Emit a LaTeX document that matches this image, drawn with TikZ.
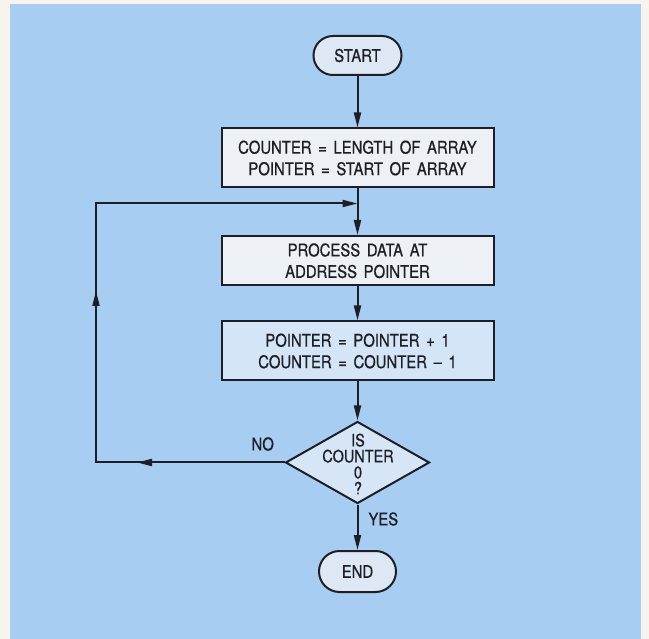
\documentclass[tikz,border=0pt]{standalone}
\usepackage{fontspec}
\setmainfont{TeX Gyre Heros}[FakeBold=0.7, FakeStretch=0.85, WordSpace=1.6]
\usetikzlibrary{shapes.misc,shapes.geometric,arrows.meta,decorations.markings}
\definecolor{paper}{HTML}{F7F4EE}
\definecolor{bg}{HTML}{A7CDF2}
\definecolor{ink}{HTML}{1E1F26}
\definecolor{whitebox}{HTML}{EDF1F5}
\definecolor{bluebox}{HTML}{D3E5F6}
\definecolor{termfill}{HTML}{DDE8F4}
\definecolor{decfill}{HTML}{D6E6F6}
\tikzset{
  lw/.style={line width=2pt, draw=ink},
  tip/.tip={Triangle[length=15pt,width=7pt]},
  flow/.style={lw, -tip},
  txt/.style={font=\fontsize{17.5}{21.5}\selectfont, text=ink, align=center},
  terminal/.style={lw, rounded rectangle, inner sep=0pt, txt},
  procbox/.style={lw, rectangle, inner sep=0pt, minimum width=272pt, txt},
  decision/.style={lw, diamond, inner sep=0pt, fill=decfill, minimum width=144pt, minimum height=82pt},
  dtxt/.style={font=\fontsize{17}{16}\selectfont, text=ink, align=center},
  lbl/.style={font=\fontsize{17.5}{18}\selectfont, text=ink},
}
\begin{document}
\begin{tikzpicture}[x=1pt,y=-1pt]
\useasboundingbox (0,0) rectangle (649,639);
\fill[paper] (0,0) rectangle (649,639);
\fill[bg] (10,4) rectangle (641,639);

\node[terminal, fill=termfill, minimum width=88pt, minimum height=39pt] (start) at (357.5,55.5) {START};
\node[procbox, fill=whitebox, minimum height=59pt] (init) at (357.5,158) {COUNTER = LENGTH OF ARRAY\\POINTER = START OF ARRAY};
\node[procbox, fill=whitebox, minimum height=49.5pt] (proc) at (357.5,260.75) {PROCESS DATA AT\\ADDRESS POINTER};
\node[procbox, fill=bluebox, minimum height=59pt] (upd) at (357.5,351) {POINTER = POINTER + 1\\COUNTER = COUNTER – 1};
\node[decision] (dec) at (357.5,462.5) {};
\node[dtxt] (dectxt) at (358,464) {IS\\COUNTER\\0\\?};
\node[terminal, fill=termfill, minimum width=77pt, minimum height=41pt] (end) at (357.5,571.5) {END};

\node[lbl] (no) at (262.7,444) {NO};
\node[lbl] (yes) at (383.3,519) {YES};

\coordinate (bl) at (96,462.5);
\coordinate (tl) at (96,203.5);
\coordinate (join) at (357.5,203.5);

\draw[flow] (start) -- (init);
\draw[flow] (init) -- (proc);
\draw[flow] (proc) -- (upd);
\draw[flow] (upd) -- (dec);
\draw[flow] (dec) -- (end);
\draw[flow, postaction={decorate}, decoration={markings,
    mark=at position 147.5pt with {\arrow{tip}},
    mark=at position 360pt with {\arrow{tip}}}]
  (dec.west) -- (bl) -- (tl) -- (join);
\end{tikzpicture}
\end{document}
